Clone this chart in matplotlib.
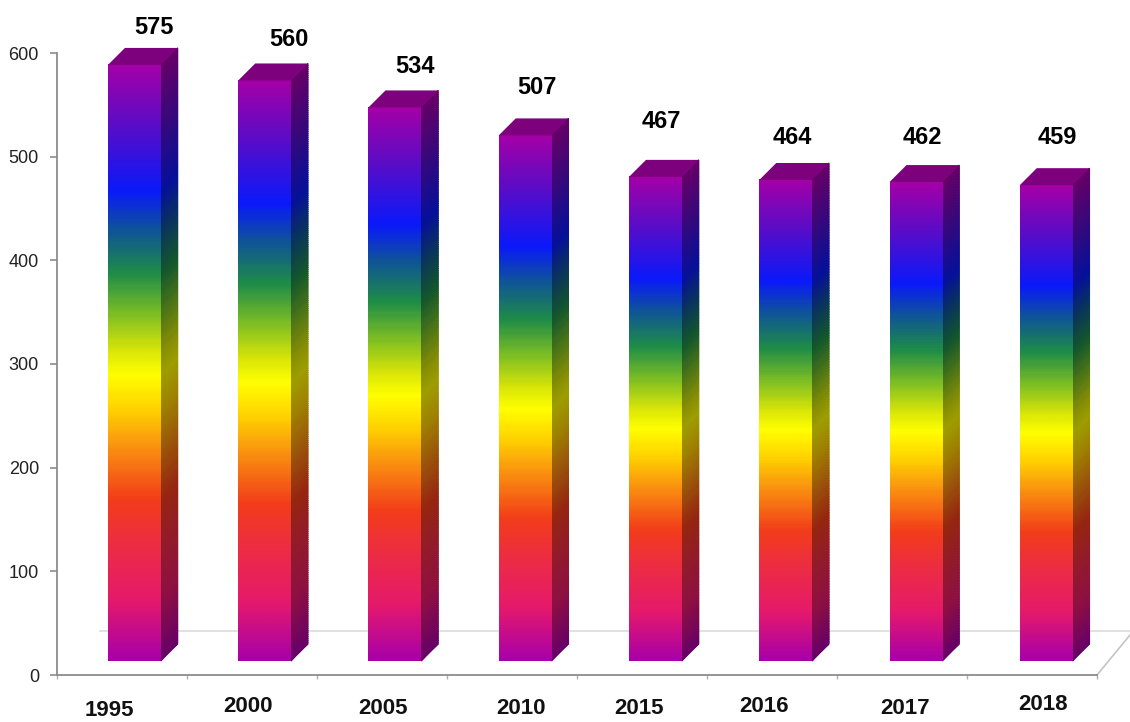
import numpy as np
import matplotlib
matplotlib.use("Agg")
import matplotlib.pyplot as plt
from matplotlib.colors import LinearSegmentedColormap

years = ["1995", "2000", "2005", "2010", "2015", "2016", "2017", "2018"]
values = [575, 560, 534, 507, 467, 464, 462, 459]
yticks = [0, 100, 200, 300, 400, 500, 600]

plt.rcParams["font.family"] = ["Liberation Sans", "DejaVu Sans"]

W, H = 1130, 722
L, R, T, B = 57, 1097, 53, 675   # plot box in pixels

fig = plt.figure(figsize=(W / 100, H / 100), dpi=100, facecolor="white")
ax = fig.add_axes([L / W, 1 - B / H, (R - L) / W, (B - T) / H])

px_x = len(years) / (R - L)      # one pixel in category units
px_y = 600 / (B - T)             # one pixel in value units
base = 14 * px_y                 # bars float above the axis
depth_x = 17 * px_x
depth_y = 17 * px_y
bar_left = 0.392
bar_w = 0.406
pitch = 1.002

rainbow = LinearSegmentedColormap.from_list("rainbow3d", [
    (0.00, (0.66, 0.00, 0.66)),
    (0.10, (0.90, 0.10, 0.42)),
    (0.20, (0.93, 0.18, 0.25)),
    (0.27, (0.95, 0.24, 0.10)),
    (0.36, (0.98, 0.58, 0.06)),
    (0.42, (1.00, 0.82, 0.00)),
    (0.48, (1.00, 1.00, 0.00)),
    (0.52, (0.85, 0.90, 0.03)),
    (0.58, (0.50, 0.75, 0.14)),
    (0.65, (0.12, 0.55, 0.28)),
    (0.72, (0.06, 0.34, 0.58)),
    (0.79, (0.04, 0.10, 0.98)),
    (0.90, (0.35, 0.05, 0.78)),
    (1.00, (0.64, 0.00, 0.66)),
])
shade = np.linspace(0, 1, 200)
side_rgb = rainbow(shade)[:, :3] * 0.62
side_cmap = LinearSegmentedColormap.from_list("side3d", side_rgb)

# back wall and floor lines
ax.plot([bar_left - 8 * px_x, 8 + 33 * px_x], [44 * px_y] * 2, color="#dcdcdc",
        lw=1.2, clip_on=False, zorder=1)
ax.plot([8, 8 + 33 * px_x], [0, 40 * px_y], color="#c4c4c4", lw=1.2,
        clip_on=False, zorder=1)

for i, v in enumerate(values):
    x0 = i * pitch + bar_left
    x1 = x0 + bar_w
    top = v + base

    # front face
    grad = np.linspace(0, 1, 300).reshape(-1, 1)
    ax.imshow(grad, cmap=rainbow, origin="lower", aspect="auto", zorder=3,
              extent=[x0, x1, base, top], vmin=0, vmax=1)

    # side face, sheared upward
    sx = np.array([x1, x1 + depth_x])
    sy = np.linspace(base, top, 300)
    X = np.tile(sx, (300, 1))
    Y = np.column_stack([sy, sy + depth_y])
    C = np.column_stack([grad[:, 0], grad[:, 0]])
    ax.pcolormesh(X, Y, C, cmap=side_cmap, shading="gouraud", vmin=0, vmax=1,
                  zorder=2, clip_on=False)

    # top face
    ax.fill([x0, x1, x1 + depth_x, x0 + depth_x],
            [top, top, top + depth_y, top + depth_y],
            color="#7d007d", lw=0, zorder=4, clip_on=False)

# value labels and year labels sit a little irregularly in the original
value_px = [154, 289, 415, 537, 661, 792, 922, 1057]
value_py = [28, 39, 66, 87, 121, 137, 138, 138]
year_px = [109, 248, 383, 521, 639, 764, 905, 1043]
year_py = [711, 707, 709, 709, 708, 706, 708, 704]

for i, v in enumerate(values):
    ax.text((value_px[i] - L) * px_x, (B - value_py[i]) * px_y, str(v),
            ha="center", va="center", fontsize=17, fontweight="bold",
            color="black", clip_on=False)
    ax.text((year_px[i] - L) * px_x, (B - year_py[i]) * px_y, years[i],
            ha="center", va="center", fontsize=16, fontweight="bold",
            color="#111111", clip_on=False)

ax.set_xlim(0, len(years))
ax.set_ylim(0, 600)
ax.set_xticks(np.arange(len(years) + 1))
ax.set_xticklabels([])
ax.set_yticks(yticks)
ax.tick_params(axis="y", length=5, width=1.2, color="#8c8c8c", labelsize=13,
               labelcolor="#222222", pad=8)
ax.tick_params(axis="x", length=3, width=1.0, color="#b0b0b0")
ax.patch.set_alpha(0)
for s in ["top", "right"]:
    ax.spines[s].set_visible(False)
for s in ["left", "bottom"]:
    ax.spines[s].set_color("#8c8c8c")
    ax.spines[s].set_linewidth(1.3)

fig.savefig("out.png", dpi=100, facecolor="white")
